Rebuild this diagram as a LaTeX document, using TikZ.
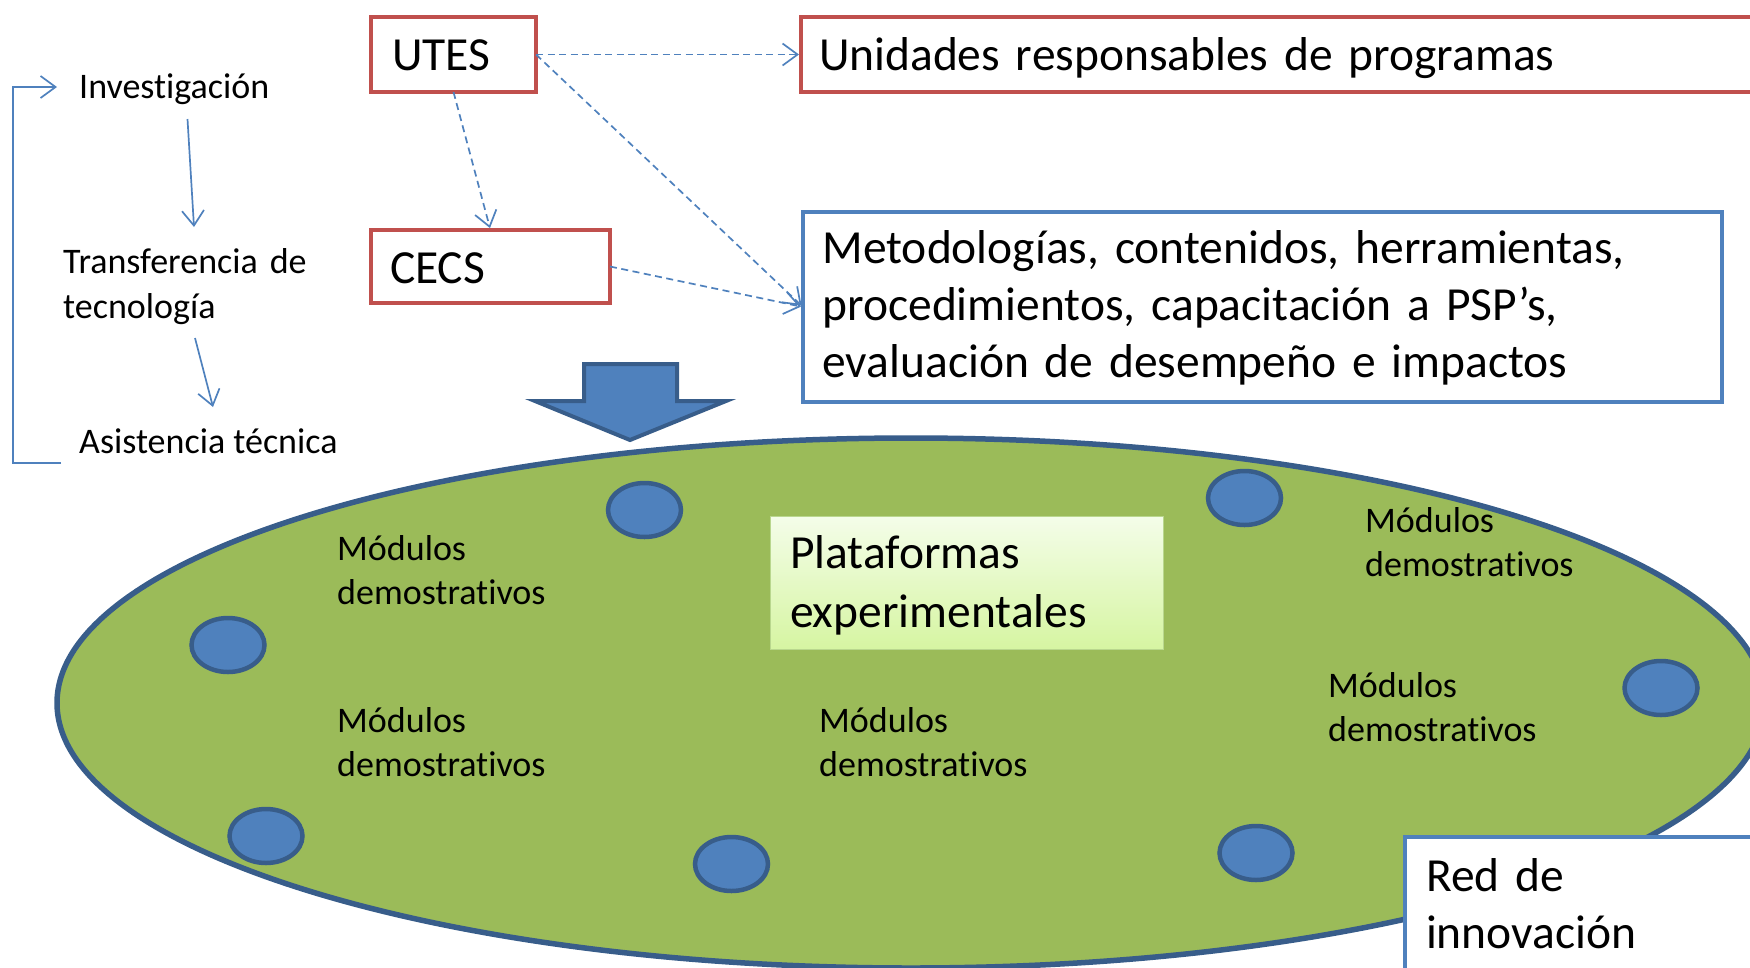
\documentclass[tikz,border=0pt]{standalone}
\usepackage{fontspec}
\setmainfont{Carlito}[Ligatures={NoCommon}]
\usetikzlibrary{arrows.meta,shapes.geometric}
\definecolor{rbord}{HTML}{C0504D}
\definecolor{bblue}{HTML}{4F81BD}
\definecolor{dblue}{HTML}{385D8A}
\definecolor{egreen}{HTML}{9BBB59}
\definecolor{ptop}{HTML}{F4FDE9}
\definecolor{pbot}{HTML}{D6F5A2}
\definecolor{pline}{HTML}{B9D78E}
\begin{document}
\begin{tikzpicture}[x=1pt,y=-1pt,
  bigfont/.style={font=\fontsize{47.5}{57}\selectfont},
  smallfont/.style={font=\fontsize{36}{44}\selectfont},
  boxbase/.style={rectangle, outer sep=0pt, inner ysep=0pt, align=left, anchor=base west, bigfont},
  redbox/.style={boxbase, draw=rbord, line width=4.5pt, fill=white},
  bluebox/.style={boxbase, draw=bblue, line width=4.5pt, fill=white},
  txt/.style={inner sep=0pt, anchor=base west, align=left, smallfont},
  dasharrow/.style={draw=bblue, line width=1.7pt, dash pattern=on 7pt off 4.5pt, -{Straight Barb[length=15pt,width=22pt]}, shorten >=2pt},
  thinarrow/.style={draw=bblue, line width=1.7pt, -{Straight Barb[length=15pt,width=22pt]}},
  modot/.style={ellipse, draw=dblue, fill=bblue, line width=4.5pt, minimum width=73pt, minimum height=54pt, inner sep=0pt},
]
\useasboundingbox (0,0) rectangle (1750,967);
\clip (0,0) rectangle (1750,967);

% big ellipse (innovation network)
\node[ellipse, draw=dblue, fill=egreen, line width=5.5pt, minimum width=1708pt, minimum height=530pt, inner sep=0pt, outer sep=0pt] (net) at (911,703) {};

% modules (blue dots)
\node[modot] (d1) at (644.5,510) {};
\node[modot] (d2) at (1244.5,498) {};
\node[modot] (d3) at (228,645) {};
\node[modot] (d4) at (1661,688) {};
\node[modot] (d5) at (266,836) {};
\node[modot] (d6) at (731.5,864) {};
\node[modot] (d7) at (1256,853) {};

% module labels
\node[txt, text width=240pt] (m1) at (337,560) {Módulos\\demostrativos};
\node[txt, text width=240pt] (m2) at (1365,532) {Módulos\\demostrativos};
\node[txt, text width=240pt] (m3) at (337,732) {Módulos\\demostrativos};
\node[txt, text width=240pt] (m4) at (819,732) {Módulos\\demostrativos};
\node[txt, text width=240pt] (m5) at (1328,697) {Módulos\\demostrativos};

% experimental platforms
\node[boxbase, draw=pline, line width=1pt, top color=ptop, bottom color=pbot, inner xsep=20pt, text width=353pt, text height=52pt, text depth=81pt, font=\fontsize{47.5}{59}\selectfont] (plat) at (770,568) {Plataformas\\experimentales};

% innovation network label box
\node[bluebox, inner xsep=21pt, text width=323pt, text height=54pt, text depth=99pt] (redinn) at (1405,891) {Red de\\innovación};

% block arrow
\draw[draw=dblue, fill=bblue, line width=4pt, line join=miter] (584,364) -- (677,364) -- (677,401) -- (726,401) -- (630,440) -- (535,401) -- (584,401) -- cycle;

% top boxes
\node[redbox, inner xsep=21pt, text width=123pt, text height=53pt, text depth=22pt] (utes) at (371,70) {UTES};
\node[redbox, inner xsep=19pt, text width=201pt, text height=53pt, text depth=20pt] (cecs) at (371,283) {CECS};
\node[redbox, inner xsep=18pt, text width=933pt, text height=53pt, text depth=22pt] (unid) at (801,70) {Unidades responsables de programas};
\node[bluebox, inner xsep=19.5pt, text width=880pt, text height=51pt, text depth=139pt] (metod) at (803,263) {Metodologías, contenidos, herramientas,\\procedimientos, capacitación a PSP’s,\\evaluación de desempeño e impactos};

% dashed connectors
\draw[dasharrow] (utes.east) -- (unid.west);
\draw[dasharrow] (utes.east) -- (metod.west);
\draw[dasharrow] (cecs.east) -- (metod.west);
\draw[dasharrow] (utes.south) -- (cecs.north);

% left cycle
\node[txt] (inv) at (79,98) {Investigación};
\node[txt, text width=300pt, font=\fontsize{36}{45}\selectfont] (trans) at (63,273) {Transferencia de\\tecnología};
\node[txt] (asis) at (79,453) {Asistencia técnica};

\coordinate (a1s) at (187.5,119);
\coordinate (a1e) at (194,227);
\coordinate (a2s) at (195,338);
\coordinate (a2e) at (213,407);
\coordinate (bs) at (61,463);
\coordinate (bl) at (13,463);
\coordinate (bt) at (13,87);
\coordinate (be) at (57,87);
\draw[thinarrow] (a1s) -- (a1e);
\draw[thinarrow] (a2s) -- (a2e);
\draw[thinarrow] (bs) -- (bl) -- (bt) -- (be);
\end{tikzpicture}
\end{document}
